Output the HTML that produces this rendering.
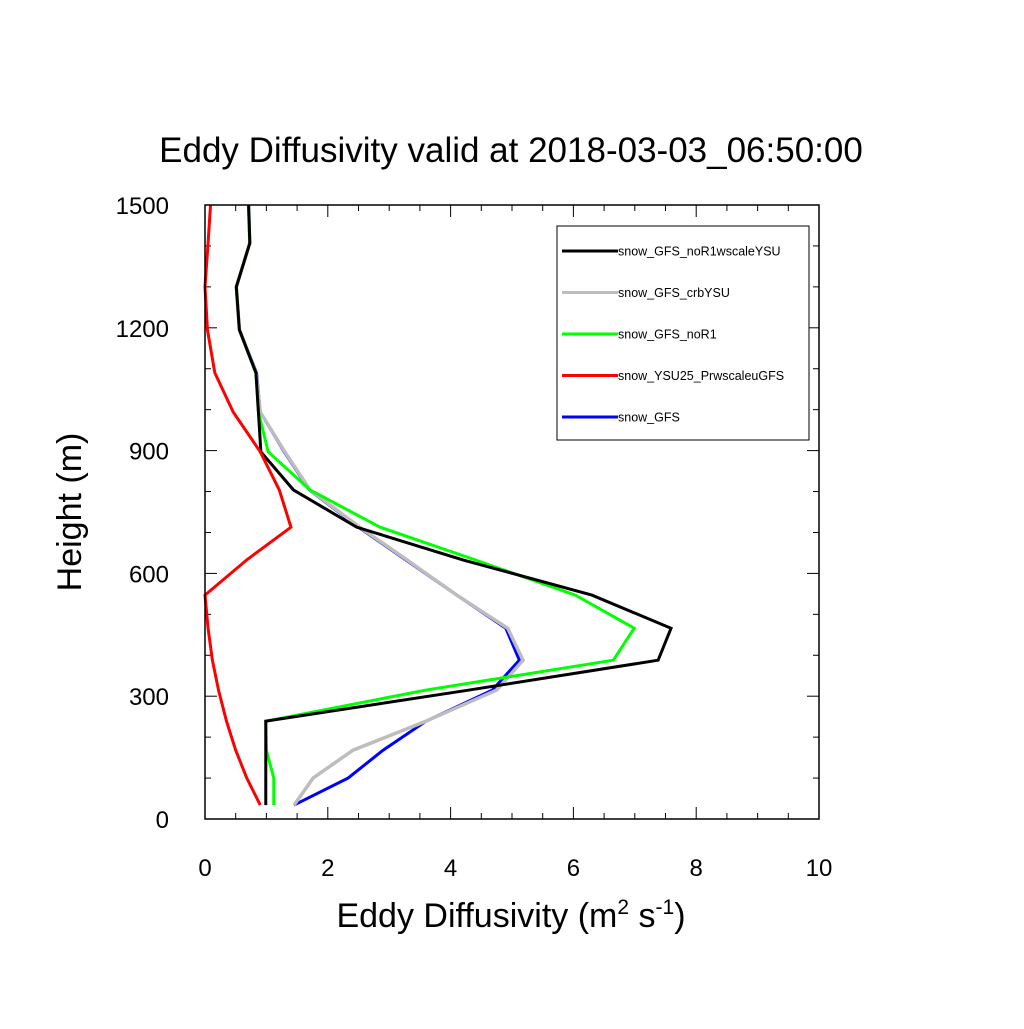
<!DOCTYPE html>
<html><head><meta charset="utf-8"><style>
body{margin:0;background:#fff}
svg text{font-family:"Liberation Sans",sans-serif}
</style></head><body>
<svg id="chart" width="1024" height="1024" xmlns="http://www.w3.org/2000/svg">
<text x="511" y="162" font-size="35" text-anchor="middle">Eddy Diffusivity valid at 2018-03-03_06:50:00</text>
<g id="axes"></g>
<g id="series"></g>
<rect x="557" y="226" width="252" height="214" fill="#fff" stroke="#000" stroke-width="1"/>
<g id="legend"></g>
<rect x="205" y="205" width="614" height="614" fill="none" stroke="#000" stroke-width="1.5"/>
<text x="511" y="927" font-size="34" text-anchor="middle">Eddy Diffusivity (m<tspan dy="-13" font-size="21">2</tspan><tspan dy="13"> s</tspan><tspan dy="-13" font-size="21">-1</tspan><tspan dy="13">)</tspan></text>
<text transform="translate(81,512) rotate(-90)" font-size="34" text-anchor="middle">Height (m)</text>
</svg>
<script>
const heights=[34,100,168,239,315,388,466,547,633,713,804,897,994,1090,1195,1300,1407,1500];
const seriesNames=["snow_GFS_noR1wscaleYSU","snow_GFS_crbYSU","snow_GFS_noR1","snow_YSU25_PrwscaleuGFS","snow_GFS"];
const seriesColors=["#000000","#bdbdbd","#00ff00","#ff0000","#0000ff"];
const blackVals=[0.99,0.99,0.99,0.99,4.3,7.38,7.59,6.30,4.2,2.47,1.44,0.91,0.87,0.83,0.56,0.51,0.73,0.71];
const grayVals=[1.45,1.76,2.41,3.6,4.75,5.18,4.93,4.1,3.29,2.52,1.71,1.3,0.9,0.83,0.56,0.51,0.73,0.71];
const greenVals=[1.12,1.12,1.0,0.99,3.6,6.65,6.99,6.03,4.4,2.85,1.71,1.03,0.87,0.83,0.56,0.51,0.73,0.71];
const redVals=[0.9,0.68,0.5,0.35,0.22,0.12,0.05,0.0,0.68,1.40,1.21,0.9,0.46,0.16,0.04,0.0,0.05,0.09];
const blueVals=[1.45,2.33,2.9,3.6,4.68,5.12,4.9,4.1,3.27,2.5,1.7,1.29,0.9,0.84,0.56,0.51,0.73,0.71];
const xTicks=[0,2,4,6,8,10];
const yTicks=[0,300,600,900,1200,1500];
const NS="http://www.w3.org/2000/svg";
const X=v=>205+v*61.4, Y=h=>819-h*0.40933;
const axes=document.getElementById('axes');
function line(p,x1,y1,x2,y2,w){const l=document.createElementNS(NS,'line');l.setAttribute('x1',x1);l.setAttribute('y1',y1);l.setAttribute('x2',x2);l.setAttribute('y2',y2);l.setAttribute('stroke','#000');l.setAttribute('stroke-width',w||1);p.appendChild(l);return l;}
for(let v=0;v<=10.001;v+=0.5){const maj=Math.abs(v%2)<1e-6;const L=maj?12:6;const x=X(v);
 let t=line(axes,x,819,x,819-L);
 
 
 let t2=line(axes,x,205,x,205+L);
 
 }
for(let h=0;h<=1500;h+=100){const maj=h%300===0;const L=maj?12:6;const y=Y(h);
 let t=line(axes,205,y,205+L,y);
 
 
 let t2=line(axes,819,y,819-L,y);
 
 }
xTicks.forEach(v=>{const t=document.createElementNS(NS,'text');t.setAttribute('x',X(v));t.setAttribute('y',876);t.setAttribute('font-size','24');t.setAttribute('text-anchor','middle');t.textContent=v;
 
 
 axes.appendChild(t);});
yTicks.forEach(v=>{const t=document.createElementNS(NS,'text');t.setAttribute('x',169);t.setAttribute('y',Y(v)+9);t.setAttribute('font-size','24');t.setAttribute('text-anchor','end');t.textContent=v;
 
 
 axes.appendChild(t);});
const allVals=[blackVals,grayVals,greenVals,redVals,blueVals];
const order=[4,1,2,0,3];
const sg=document.getElementById('series');
order.forEach(i=>{const p=document.createElementNS(NS,'polyline');
 p.setAttribute('points',allVals[i].map((v,k)=>X(v)+','+Y(heights[k])).join(' '));
 p.setAttribute('fill','none');p.setAttribute('stroke',seriesColors[i]);p.setAttribute('stroke-width',i===1?3.5:3);p.setAttribute('stroke-linejoin','miter');
 
 
 sg.appendChild(p);});
const lg=document.getElementById('legend');
seriesNames.forEach((n,i)=>{const y=251+i*41.5;
 const l=line(lg,562,y,618,y,3);l.setAttribute('stroke',seriesColors[i]);
 
 
 const t=document.createElementNS(NS,'text');t.setAttribute('x',618);t.setAttribute('y',y+4.5);t.setAttribute('font-size','12.5');t.textContent=n;
 
 
 lg.appendChild(t);});
</script>
</body></html>
